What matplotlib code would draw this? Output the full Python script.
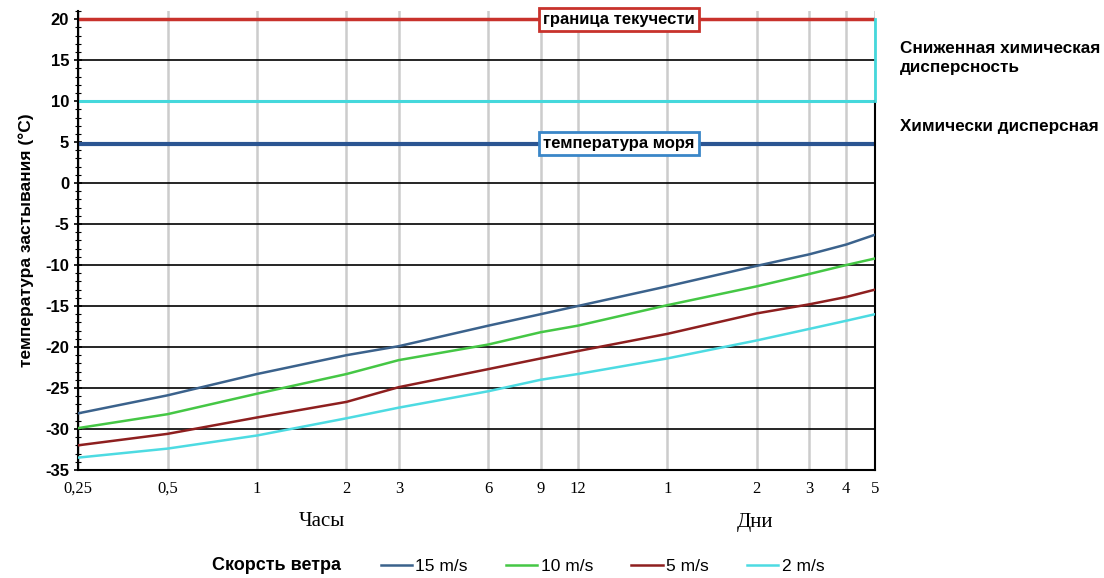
import matplotlib
matplotlib.use('Agg')
import matplotlib.pyplot as plt
from matplotlib.ticker import FixedLocator, MultipleLocator, NullFormatter

# time in hours (log axis), 0.25 h .. 5 days
hours = [0.25, 0.5, 1, 2, 3, 6, 9, 12, 24, 48, 72, 96, 120]
tick_labels = ['0,25', '0,5', '1', '2', '3', '6', '9', '12', '1', '2', '3', '4', '5']

wind_labels = ['15 m/s', '10 m/s', '5 m/s', '2 m/s']
w15 = [-28.1, -25.9, -23.3, -21.0, -19.9, -17.4, -16.0, -15.0, -12.6, -10.1, -8.7, -7.5, -6.3]
w10 = [-29.9, -28.2, -25.7, -23.3, -21.6, -19.7, -18.2, -17.4, -14.9, -12.6, -11.1, -10.0, -9.2]
w5 = [-32.0, -30.6, -28.6, -26.7, -24.9, -22.7, -21.4, -20.5, -18.4, -15.9, -14.8, -13.9, -13.0]
w2 = [-33.5, -32.4, -30.8, -28.7, -27.4, -25.4, -24.0, -23.3, -21.4, -19.2, -17.8, -16.8, -16.0]

pour_limit = 20      # граница текучести
reduced_disp = 15
chem_disp = 10
sea_temp = 4.8
y_ticks = [20, 15, 10, 5, 0, -5, -10, -15, -20, -25, -30, -35]
label_x = 16.5       # hours, where the two boxed labels sit

fig = plt.figure(figsize=(11.04, 5.78), dpi=100)
ax = fig.add_axes([0.0707, 0.187, 0.7219, 0.794])
ax.set_xscale('log')
ax.set_xlim(hours[0], hours[-1])
ax.set_ylim(-35, 21)

# vertical grid
for h in hours:
    ax.axvline(h, color='#cccccc', lw=1.8, zorder=0)
# horizontal black lines
for v in range(-30, 5, 5):
    ax.axhline(v, color='black', lw=1.2, zorder=1)
ax.axhline(reduced_disp, color='black', lw=1.2, zorder=1)
ax.axhline(chem_disp, color='#45d8dc', lw=2.2, zorder=2)
ax.axhline(pour_limit, color='#c8322c', lw=2.5, zorder=2)
ax.axhline(sea_temp, color='#2b5592', lw=3.0, zorder=2)

colors = ['#3b628c', '#45c745', '#8e1f1f', '#4ddbe2']
for vals, c, lab in zip([w15, w10, w5, w2], colors, wind_labels):
    ax.plot(hours, vals, color=c, lw=1.8, label=lab, zorder=3)

ax.text(label_x, pour_limit, 'граница текучести', ha='center', va='center',
        fontsize=12, fontweight='bold', family='Liberation Sans',
        bbox=dict(boxstyle='square,pad=0.25', fc='white', ec='#c8322c', lw=2), zorder=4)
ax.text(label_x, sea_temp, 'температура моря', ha='center', va='center',
        fontsize=12, fontweight='bold', family='Liberation Sans',
        bbox=dict(boxstyle='square,pad=0.25', fc='white', ec='#3a86c8', lw=2), zorder=4)

# spines
ax.spines['top'].set_visible(False)
ax.spines['right'].set_bounds(-35, chem_disp)
ax.spines['right'].set_linewidth(1.5)
ax.spines['left'].set_linewidth(1.5)
ax.spines['bottom'].set_linewidth(1.5)
ax.plot([hours[-1], hours[-1]], [chem_disp, pour_limit], color='#45d8dc', lw=2,
        clip_on=False, zorder=5)

ax.xaxis.set_major_locator(FixedLocator(hours))
ax.xaxis.set_minor_formatter(NullFormatter())
ax.set_xticklabels(tick_labels, family='Liberation Serif', fontsize=12)
ax.tick_params(axis='x', which='both', length=0, pad=8)

ax.yaxis.set_major_locator(FixedLocator(y_ticks))
ax.yaxis.set_minor_locator(MultipleLocator(1))
ax.set_yticklabels([str(v) for v in y_ticks], fontweight='bold', fontsize=12,
                   family='Liberation Sans')
ax.tick_params(axis='y', which='major', length=6, width=1.2, direction='inout')
ax.tick_params(axis='y', which='minor', length=4, width=0.8, direction='inout')

ax.set_ylabel('температура застывания (°C)', fontsize=12.5, fontweight='bold',
              family='Liberation Sans', labelpad=8)

fig.text(322 / 1104, 1 - 522 / 578, 'Часы', ha='center', va='center',
         family='Liberation Serif', fontsize=15)
fig.text(755 / 1104, 1 - 522 / 578, 'Дни', ha='center', va='center',
         family='Liberation Serif', fontsize=15)

fig.text(900 / 1104, 1 - 58 / 578, 'Сниженная химическая\nдисперсность', ha='left',
         va='center', fontsize=12.3, fontweight='bold', family='Liberation Sans',
         linespacing=1.3)
fig.text(900 / 1104, 1 - 127 / 578, 'Химически дисперсная', ha='left', va='center',
         fontsize=12.3, fontweight='bold', family='Liberation Sans')

fig.text(212 / 1104, 1 - 566 / 578, 'Скорсть ветра', ha='left', va='center',
         fontsize=13, fontweight='bold', family='Liberation Sans')
handles, labels = ax.get_legend_handles_labels()
fig.legend(handles, labels, loc='center left', bbox_to_anchor=(365 / 1104, 1 - 566 / 578),
           ncol=4, frameon=False, handlelength=1.8, handletextpad=0.2,
           columnspacing=2.2, prop={'family': 'Liberation Sans', 'size': 12.5})

fig.savefig('out.png', dpi=100)
